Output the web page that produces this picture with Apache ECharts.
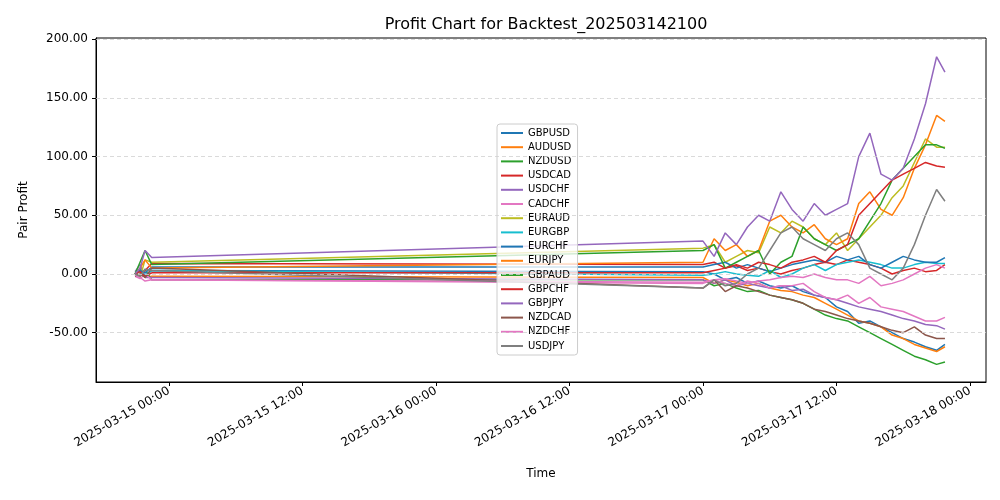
<!DOCTYPE html>
<html><head><meta charset="utf-8">
<script src="https://cdn.jsdelivr.net/npm/echarts@6/dist/echarts.min.js"></script>
<style>html,body{margin:0;background:#fff}#c{width:1000px;height:500px}</style></head>
<body><div id="c"></div>
<script>
// hours relative to 2025-03-15 00:00
const earlyHours = [-3.05, -2.6, -2.15, -1.55];
const denseHours = [48,49,50,51,52,53,54,55,56,57,58,59,60,61,62,63,64,65,66,67,68,69,69.75];
const xTicks = [0,12,24,36,48,60,72];
const yTicks = [-50,0,50,100,150,200];
const names = ["GBPUSD","AUDUSD","NZDUSD","USDCAD","USDCHF","CADCHF","EURAUD","EURGBP","EURCHF","EURJPY","GBPAUD","GBPCHF","GBPJPY","NZDCAD","NZDCHF","USDJPY"];
const colors = ["#1f77b4","#ff7f0e","#2ca02c","#d62728","#9467bd","#e377c2","#bcbd22","#17becf","#1f77b4","#ff7f0e","#2ca02c","#d62728","#9467bd","#8c564b","#e377c2","#7f7f7f"];
const GBPUSD = [0,5,-2,3, 2,0,-5,-3,-8,-6,-10,-12,-10,-15,-18,-20,-28,-32,-42,-40,-45,-50,-55,-58,-62,-65,-60];
const AUDUSD = [0,3,-3,-2, -3,-8,-5,-7,-10,-8,-12,-14,-15,-18,-20,-25,-30,-35,-40,-42,-45,-52,-55,-60,-63,-66,-62];
const NZDUSD = [1,-2,4,-5, -5,-10,-8,-12,-15,-14,-18,-20,-22,-25,-30,-35,-38,-40,-45,-50,-55,-60,-65,-70,-73,-77,-75];
const USDCAD = [0,-1,3,9, 8,10,5,7,3,5,2,0,3,5,8,10,8,12,10,8,5,0,3,5,2,3,8];
const USDCHF = [2,8,-3,-3, -5,-8,-5,-10,-8,-10,-12,-10,-14,-13,-18,-20,-22,-25,-28,-30,-32,-35,-38,-40,-43,-44,-47];
const CADCHF = [-2,-4,0,-5, -8,-5,-8,-10,-6,-8,-12,-10,-10,-8,-15,-20,-22,-18,-25,-20,-28,-30,-32,-36,-40,-40,-37];
const EURAUD = [0,-3,12,10, 22,25,10,15,20,18,40,35,45,40,30,25,35,20,30,40,50,65,75,95,115,108,108];
const EURGBP = [0,2,-1,3, -1,0,2,0,-1,-2,3,-3,0,5,8,3,8,10,12,10,8,5,5,8,10,9,9];
const EURCHF = [0,3,1,6, 6,8,10,5,8,5,2,5,8,10,12,10,15,12,15,8,5,10,15,12,10,10,14];
const EURJPY = [0,5,12,5, 10,30,20,25,15,20,45,50,40,35,42,30,25,30,60,70,55,50,65,90,110,135,130];
const GBPAUD = [0,10,20,8, 20,25,5,10,15,20,0,10,15,40,30,25,20,25,30,45,60,80,90,100,110,110,107];
const GBPCHF = [0,2,-2,1, 1,3,5,8,5,10,8,5,10,12,15,10,20,25,50,60,70,80,85,90,95,92,91];
const GBPJPY = [0,5,20,14, 28,15,35,25,40,50,45,70,55,45,60,50,55,60,100,120,85,80,90,115,145,185,172];
const NZDCAD = [-2,0,-3,5, -12,-5,-15,-10,-12,-15,-18,-20,-22,-25,-30,-32,-35,-38,-40,-42,-45,-48,-50,-45,-52,-55,-55];
const NZDCHF = [-1,-3,-6,-5, -7,-5,-4,-6,-8,-6,-5,-3,-2,-3,0,-3,-5,-5,-8,-2,-10,-8,-5,0,5,8,5];
const USDJPY = [0,-2,4,3, -12,-5,-10,-8,0,5,20,35,40,30,25,20,30,35,25,5,0,-5,5,25,50,72,62];
const values = [GBPUSD,AUDUSD,NZDUSD,USDCAD,USDCHF,CADCHF,EURAUD,EURGBP,EURCHF,EURJPY,GBPAUD,GBPCHF,GBPJPY,NZDCAD,NZDCHF,USDJPY];
const hours = earlyHours.concat(denseHours);

function fmtHour(h){
  const d = new Date(Date.UTC(2025,2,15) + h*3600000);
  const p = n => String(n).padStart(2,'0');
  return d.getUTCFullYear()+'-'+p(d.getUTCMonth()+1)+'-'+p(d.getUTCDate())+' '+p(d.getUTCHours())+':'+p(d.getUTCMinutes());
}
const series = names.map((n,i)=>({
  name:n, type:'line', showSymbol:false, symbol:'none',
  lineStyle:{width:1.5, color:colors[i]}, itemStyle:{color:colors[i]},
  data: hours.map((h,j)=>[h, values[i][j]]), z:3
}));
series.push({type:'line', data:[], silent:true,
  markLine:{symbol:'none', silent:true, label:{show:false},
    lineStyle:{type:[4,3], color:'#d0d0d0', width:0.8},
    data: yTicks.map(v=>({yAxis:v}))}});
const chart = echarts.init(document.getElementById('c'));
chart.setOption({
  animation:false,
  title:{text:'Profit Chart for Backtest_202503142100', left:541, top:12, textAlign:'center',
    textStyle:{fontFamily:'DejaVu Sans', fontSize:16, fontWeight:'normal', color:'#000'}},
  grid:{left:96, right:14, top:38, bottom:118, show:true, borderColor:'#000', borderWidth:1},
  legend:{orient:'vertical', left:497, top:124, itemGap:4.2, itemWidth:22, itemHeight:10,
    icon:'path://M0,4L22,4L22,6L0,6Z', padding:[4,6,4,4],
    backgroundColor:'rgba(255,255,255,0.8)', borderColor:'#ccc', borderWidth:1, borderRadius:3,
    textStyle:{fontFamily:'DejaVu Sans', fontSize:10, color:'#000'}, data:names},
  xAxis:{type:'value', min:-6.56, max:73.44, interval:12,
    name:'Time', nameLocation:'middle', nameGap:86,
    nameTextStyle:{fontFamily:'DejaVu Sans', fontSize:12, color:'#000'},
    axisLine:{onZero:false, lineStyle:{color:'#000'}}, splitLine:{show:false},
    axisTick:{customValues:xTicks, length:4, lineStyle:{color:'#000'}},
    axisLabel:{customValues:xTicks, rotate:30, formatter:v=>fmtHour(v), margin:8,
      fontFamily:'DejaVu Sans', fontSize:12, color:'#000'}},
  yAxis:{type:'value', min:-92, max:201,
    name:'Pair Profit', nameLocation:'middle', nameGap:66,
    nameTextStyle:{fontFamily:'DejaVu Sans', fontSize:12, color:'#000'},
    axisLine:{show:true, onZero:false, lineStyle:{color:'#000'}}, splitLine:{show:false},
    axisTick:{show:true, customValues:yTicks, length:4, lineStyle:{color:'#000'}},
    axisLabel:{customValues:yTicks, formatter:v=>v.toFixed(2), fontFamily:'DejaVu Sans', fontSize:12, color:'#000'}},
  series:series
});
</script></body></html>
